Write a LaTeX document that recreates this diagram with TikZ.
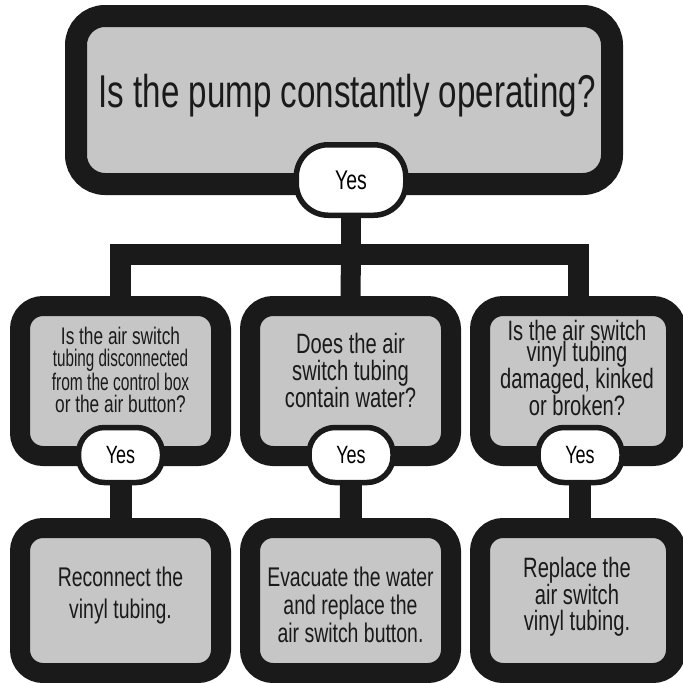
\documentclass[tikz,border=0pt]{standalone}
\usepackage{fontspec}
\usepackage{graphicx}
\setmainfont[FakeStretch=0.72]{Liberation Sans}
\usetikzlibrary{backgrounds}
\definecolor{boxgray}{RGB}{198,198,198}
\definecolor{ink}{RGB}{26,26,26}
\begin{document}
\begin{tikzpicture}[x=1pt,y=-1pt,
  box/.style={draw=ink, line width=20pt, fill=boxgray, rounded corners=23pt, inner sep=0pt,
    minimum width=201pt},
  qbox/.style={box, minimum height=150pt},
  abox/.style={box, minimum height=145pt},
  yesbox/.style={draw=ink, line width=5.5pt, fill=white, rounded corners=26pt, inner sep=0pt,
    minimum width=84pt, minimum height=55pt, font=\fontsize{25}{25}\selectfont},
  txt/.style={align=center, inner sep=0pt, text=ink},
  conn/.style={draw=ink, line width=21pt}
]
\useasboundingbox (0,0) rectangle (683,683);

% top question
\node[box, line width=22pt, rounded corners=29pt, minimum width=536pt, minimum height=168pt] (top) at (344,100) {};
\node[txt, font=\fontsize{46}{46}\selectfont] (toptx) at (347,96) {Is the pump constantly operating?};
\node[yesbox, minimum width=109.5pt, minimum height=70.5pt, rounded corners=32pt,
      font=\fontsize{27}{27}\selectfont] (tyes) at (351,180) {Yes};

% second row questions
\node[qbox] (lq) at (120.5,381) {};
\node[qbox] (mq) at (350.5,381) {};
\node[qbox, minimum width=196pt] (rq) at (578,381) {};

\node[txt, font=\fontsize{24}{22}\selectfont] (lqt) at (120.5,370)
  {Is the air switch\\\scalebox{0.88}[1]{tubing disconnected}\\\scalebox{0.9}[1]{from the control box}\\or the air button?};
\node[txt, font=\fontsize{28}{27}\selectfont] (mqt) at (350.5,370)
  {Does the air\\switch tubing\\contain water?};
\node[txt, font=\fontsize{28}{21.5}\selectfont] (rqt) at (577,368)
  {Is the air switch\\vinyl tubing\\damaged, kinked\\or broken?};

\node[yesbox] (lyes) at (120.5,455) {Yes};
\node[yesbox] (myes) at (351,455) {Yes};
\node[yesbox] (ryes) at (580,455) {Yes};

% bottom row answers
\node[abox] (lb) at (120.5,600.5) {};
\node[abox] (mb) at (350.5,600.5) {};
\node[abox, minimum width=196pt] (rb) at (578,600.5) {};

\node[txt, font=\fontsize{27}{32}\selectfont] (lbt) at (120.5,596)
  {Reconnect the\\vinyl tubing.};
\node[txt, font=\fontsize{27}{28}\selectfont] (mbt) at (350.5,605)
  {Evacuate the water\\and replace the\\air switch button.};
\node[txt, font=\fontsize{28}{26.5}\selectfont] (rbt) at (577,597)
  {Replace the\\air switch\\vinyl tubing.};

% connectors
\coordinate (bar) at (351,254);
\begin{scope}[on background layer]
  \fill[white] (0,0) rectangle (683,683);
  \draw[conn, line width=20pt] (tyes.center) -- (bar);
  \draw[conn, line width=21pt] (lq.north) |- (bar) -| (rq.north);
  \draw[conn, line width=20pt] (bar) -- (mq.north);
  \draw[conn, line width=22pt] (lyes.center) -- (lb.center);
  \draw[conn, line width=22pt] (myes.center) -- (mb.center);
  \draw[conn, line width=22pt] (ryes.center) -- (ryes.center |- rb.center);
\end{scope}
\end{tikzpicture}
\end{document}
